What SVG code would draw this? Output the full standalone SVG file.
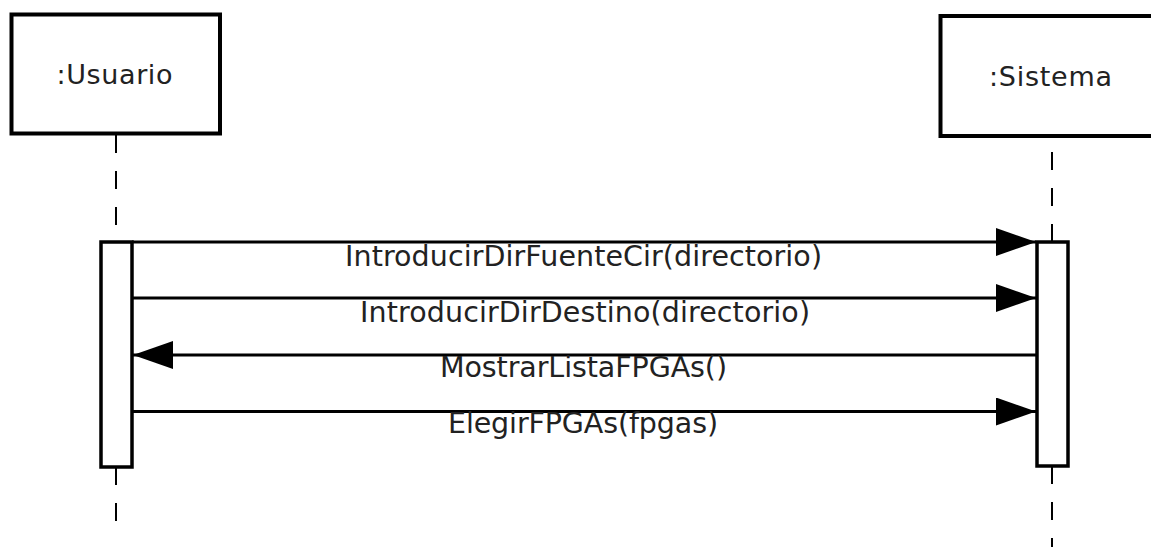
<svg xmlns="http://www.w3.org/2000/svg" width="1151" height="547" viewBox="0 0 1151 547">
  <style>
    .box { fill: #ffffff; stroke: #000000; stroke-width: 4; }
    .bar { fill: #ffffff; stroke: #000000; stroke-width: 3.5; }
    .life { stroke: #000000; stroke-width: 2; stroke-dasharray: 18 18; fill: none; }
    .msg { stroke: #000000; stroke-width: 3; fill: none; marker-end: url(#arrow); }
    .title { font-family: "DejaVu Sans", sans-serif; font-size: 27px; fill: #222222; text-anchor: middle; }
    .label { font-family: "DejaVu Sans", sans-serif; font-size: 28.5px; fill: #222222; text-anchor: middle; }
  </style>
  <defs>
    <marker id="arrow" markerUnits="userSpaceOnUse" markerWidth="40" markerHeight="28" refX="40" refY="14" orient="auto" viewBox="0 0 40 28">
      <path d="M0,0 L40,14 L0,28 Z" fill="#000000"/>
    </marker>
  </defs>
  <rect width="1151" height="547" fill="#ffffff"/>

  <g id="lifelines">
    <line class="life" x1="116" y1="135" x2="116" y2="242"/>
    <line class="life" x1="116" y1="467" x2="116" y2="522"/>
    <line class="life" x1="1052" y1="152" x2="1052" y2="242"/>
    <line class="life" x1="1052" y1="466" x2="1052" y2="547"/>
  </g>

  <g id="usuario">
    <rect class="box" x="11.5" y="14.5" width="208.5" height="119"/>
    <text class="title" x="114.5" y="84" textLength="116">:Usuario</text>
  </g>

  <g id="sistema">
    <rect class="box" x="940.5" y="16" width="222" height="120"/>
    <text class="title" x="1050.5" y="86" textLength="123">:Sistema</text>
  </g>

  <g id="activation-usuario">
    <rect class="bar" x="101" y="242" width="31" height="225"/>
  </g>
  <g id="activation-sistema">
    <rect class="bar" x="1037" y="242" width="31" height="224"/>
  </g>

  <g id="connectors">
    <line class="msg" x1="132" y1="242" x2="1036" y2="242"/>
    <line class="msg" x1="132" y1="298" x2="1036" y2="298"/>
    <line class="msg" x1="1037" y1="355" x2="133" y2="355"/>
    <line class="msg" x1="132" y1="411.5" x2="1036" y2="411.5"/>
  </g>

  <g id="labels">
    <text class="label" x="583.5" y="266" textLength="477">IntroducirDirFuenteCir(directorio)</text>
    <text class="label" x="585" y="322" textLength="450">IntroducirDirDestino(directorio)</text>
    <text class="label" x="583.5" y="377" textLength="287">MostrarListaFPGAs()</text>
    <text class="label" x="583" y="433" textLength="270">ElegirFPGAs(fpgas)</text>
  </g>
</svg>
